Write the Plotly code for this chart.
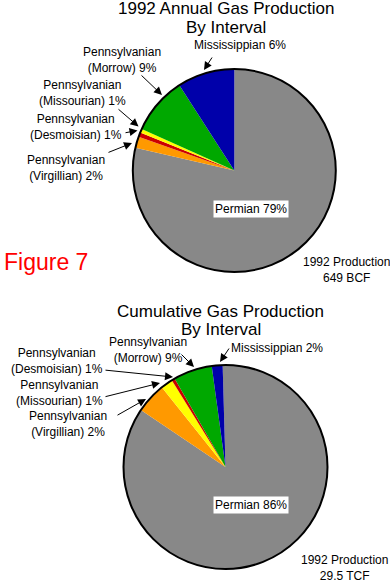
import plotly.graph_objects as go

W, H = 390, 584

# ---- data ----
intervals_annual = ["Permian", "Pennsylvanian (Virgillian)", "Pennsylvanian (Desmoisian)",
                    "Pennsylvanian (Missourian)", "Pennsylvanian (Morrow)", "Mississippian"]
share_annual = [78.6, 1.8, 0.7, 0.6, 9.2, 9.1]
colors_annual = ["#888888", "#FF9900", "#CC0000", "#FFFF00", "#00A800", "#0000AA"]

intervals_cum = ["Permian", "Pennsylvanian (Virgillian)", "Pennsylvanian (Missourian)",
                 "Pennsylvanian (Desmoisian)", "Pennsylvanian (Morrow)", "Mississippian"]
share_cum = [84.1, 4.8, 1.9, 0.5, 6.1, 1.7]
colors_cum = ["#888888", "#FF9900", "#FFFF00", "#CC0000", "#00A800", "#0000AA"]

labels_annual = ["Mississippian 6%", "Pennsylvanian<br>(Morrow) 9%", "Pennsylvanian<br>(Missourian) 1%",
                 "Pennsylvanian<br>(Desmoisian) 1%", "Pennsylvanian<br>(Virgillian) 2%"]
labels_cum = ["Mississippian 2%", "Pennsylvanian<br>(Morrow) 9%", "Pennsylvanian<br>(Desmoisian) 1%",
              "Pennsylvanian<br>(Missourian) 1%", "Pennsylvanian<br>(Virgillian) 2%"]
permian_annual = "Permian 79%"
permian_cum = "Permian 86%"
total_annual = "1992 Production<br>649 BCF"
total_cum = "1992 Production<br>29.5 TCF"
title_annual = ["1992 Annual Gas Production", "By Interval"]
title_cum = ["Cumulative Gas Production", "By Interval"]
figure_label = "Figure 7"

# ---- layout geometry (pixels) ----
pie1 = dict(cx=234.3, cy=170.5, r=101.5, rot=0)
pie2 = dict(cx=225.5, cy=467.0, r=102.0, rot=-1.6)

FONT = "Arial, Liberation Sans, Helvetica, sans-serif"


def dom(p):
    return dict(x=[(p["cx"] - p["r"]) / W, (p["cx"] + p["r"]) / W],
                y=[1 - (p["cy"] + p["r"]) / H, 1 - (p["cy"] - p["r"]) / H])


fig = go.Figure()
fig.add_trace(go.Scatter(x=[], y=[], showlegend=False))
for p, vals, cols, names in [(pie1, share_annual, colors_annual, intervals_annual),
                             (pie2, share_cum, colors_cum, intervals_cum)]:
    fig.add_trace(go.Pie(values=vals, labels=names, sort=False, direction="clockwise",
                         rotation=p["rot"], domain=dom(p), textinfo="none",
                         hoverinfo="label+percent", showlegend=False,
                         marker=dict(colors=cols, line=dict(width=0))))

shapes = []
for p in (pie1, pie2):
    shapes.append(dict(type="circle", xref="x", yref="y",
                       x0=p["cx"] - p["r"], x1=p["cx"] + p["r"],
                       y0=p["cy"] - p["r"], y1=p["cy"] + p["r"],
                       line=dict(color="black", width=2), layer="above"))

ann = []


def text(s, x, y, size=12, color="black", bg=None):
    d = dict(text=s, x=x, y=y, xref="x", yref="y", showarrow=False,
             xanchor="center", yanchor="middle",
             font=dict(family=FONT, size=size, color=color))
    if bg:
        d.update(bgcolor=bg, borderpad=1)
    ann.append(d)


def arrow(tail, tip):
    ann.append(dict(text="", x=tip[0], y=tip[1], ax=tail[0], ay=tail[1],
                    xref="x", yref="y", axref="x", ayref="y", showarrow=True,
                    arrowhead=2, arrowsize=1.6, arrowwidth=1, arrowcolor="black"))


# titles
text(title_annual[0], 226, 8.5, 17)
text(title_annual[1], 226, 27, 17)
text(title_cum[0], 220.5, 311, 17)
text(title_cum[1], 221, 329.5, 17)

# annual labels
pos_a = [(240, 45), (122, 60), (82, 93), (76, 126.5), (66, 167.5)]
arr_a = [((213, 56), (204, 70)), ((140, 74), (162, 95)), ((117, 108), (138.5, 126.5)),
         ((124, 133), (137.5, 130.5)), ((107, 153), (132, 143))]
for s, (x, y) in zip(labels_annual, pos_a):
    text(s, x, y)
for t, h in arr_a:
    arrow(t, h)
text(permian_annual, 250.5, 209, bg="white")
text(total_annual, 346.5, 270)

# cumulative labels
pos_c = [(277, 348), (148, 350), (57, 361), (59, 393), (67.5, 423.5)]
arr_c = [((230, 347), (220, 362)), ((180, 353), (194, 367)), ((104, 370), (173, 377)),
         ((104, 397), (160, 383)), ((116, 416), (146, 399))]
for s, (x, y) in zip(labels_cum, pos_c):
    text(s, x, y)
for t, h in arr_c:
    arrow(t, h)
text(permian_cum, 251, 505, bg="white")
text(total_cum, 344.5, 568)

text(figure_label, 46, 262, 23, color="#FF0000")

fig.update_layout(
    width=W, height=H, margin=dict(l=0, r=0, t=0, b=0),
    paper_bgcolor="white", plot_bgcolor="white",
    xaxis=dict(range=[0, W], visible=False, domain=[0, 1], fixedrange=True),
    yaxis=dict(range=[H, 0], visible=False, domain=[0, 1], fixedrange=True),
    shapes=shapes, annotations=ann, showlegend=False,
)
fig.write_html("out.html", config={"displayModeBar": False},
               post_script="document.body.style.margin='0';document.body.style.overflow='hidden';")
